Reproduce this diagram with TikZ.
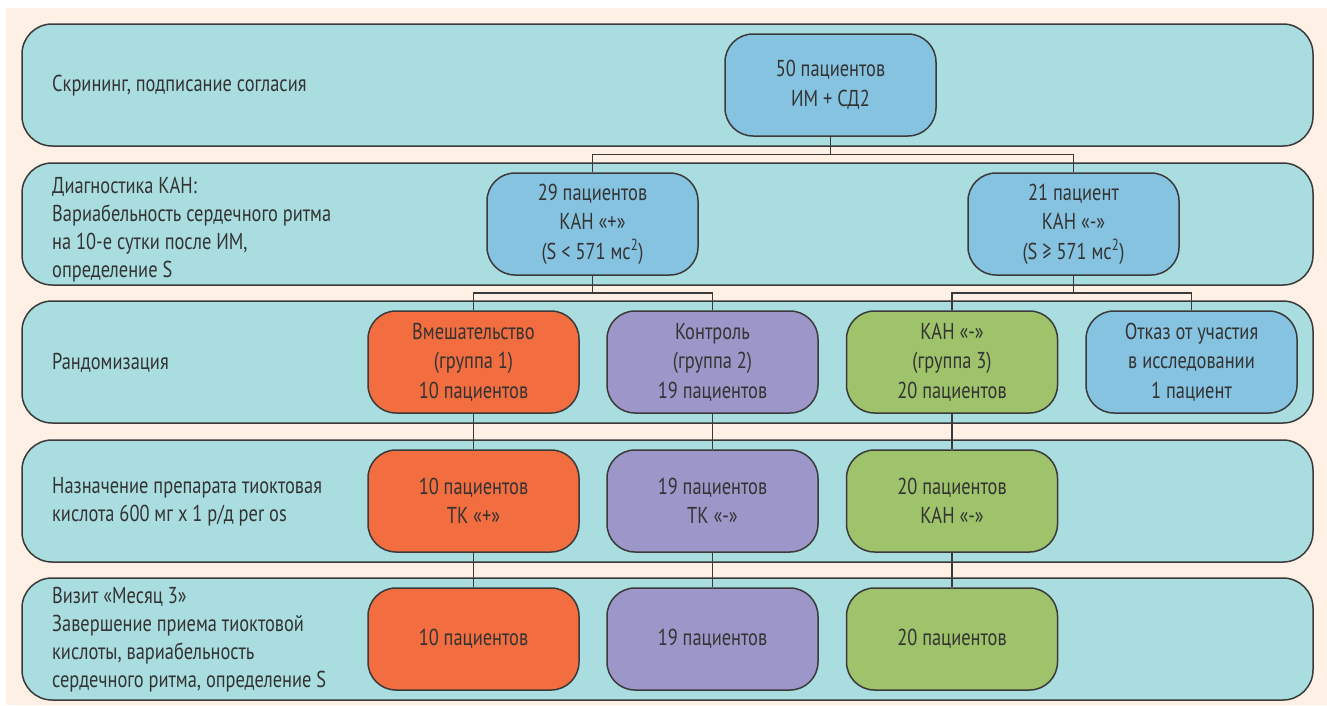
\documentclass[tikz,border=0pt]{standalone}
\usepackage{fontspec}
\setmainfont{PT Sans}[FakeStretch=0.8]
\definecolor{cream}{HTML}{FEF0E4}
\definecolor{bandc}{HTML}{AADDE0}
\definecolor{blu}{HTML}{86C3E1}
\definecolor{ora}{HTML}{F26D3F}
\definecolor{pur}{HTML}{9D97C9}
\definecolor{gre}{HTML}{9FC36B}
\definecolor{bord}{HTML}{3A3A3A}
\definecolor{txt}{HTML}{333333}
\tikzset{
  band/.style={draw=bord, line width=1.5pt, fill=bandc, rounded corners=30pt},
  box/.style={draw=bord, line width=1.5pt, rounded corners=28pt, minimum width=211pt,
    minimum height=102pt, align=center, inner sep=0pt, text=txt,
    font=\fontsize{23}{29.5}\selectfont},
  lbl/.style={anchor=west, align=left, inner sep=0pt, text=txt,
    font=\fontsize{23}{28}\selectfont},
  conn/.style={draw=bord, line width=1.3pt}
}
\begin{document}
\begin{tikzpicture}[x=1pt,y=-1pt]
\fill[white] (0,0) rectangle (1327,705);
\fill[cream] (6,8) rectangle (1327,705);
\useasboundingbox (0,0) rectangle (1327,705);
% bands
\draw[band] (22,24) rectangle (1313,146);
\draw[band] (22,163) rectangle (1313,285);
\draw[band] (22,301) rectangle (1313,423);
\draw[band] (22,440) rectangle (1313,562);
\draw[band] (22,578) rectangle (1313,700);
% band labels
\node[lbl] (l1) at (52,86) {Скрининг, подписание согласия};
\node[lbl] (l2) at (52,230) {Диагностика КАН:\\Вариабельность сердечного ритма\\на 10-е сутки после ИМ,\\определение S};
\node[lbl] (l3) at (52,363) {Рандомизация};
\node[lbl] (l4) at (52,502) {Назначение препарата тиоктовая\\кислота 600 мг х 1 р/д per os};
\node[lbl] (l5) at (52,640) {Визит «Месяц 3»\\Завершение приема тиоктовой\\кислоты, вариабельность\\сердечного ритма, определение S};
% nodes
\node[box, fill=blu] (n50) at (830.5,85) {50 пациентов\\ИМ + СД2};
\node[box, fill=blu] (n29) at (592.5,224) {29 пациентов\\КАН «+»\\(S < 571 мс\textsuperscript{2})};
\node[box, fill=blu] (n21) at (1073.5,224) {21 пациент\\КАН «-»\\(S ≥ 571 мс\textsuperscript{2})};
\node[box, fill=ora] (g1) at (473.5,362) {Вмешательство\\(группа 1)\\10 пациентов};
\node[box, fill=pur] (g2) at (712.5,362) {Контроль\\(группа 2)\\19 пациентов};
\node[box, fill=gre] (g3) at (952,362) {КАН «-»\\(группа 3)\\20 пациентов};
\node[box, fill=blu] (g4) at (1191.5,362) {Отказ от участия\\в исследовании\\1 пациент};
\node[box, fill=ora] (t1) at (473.5,501) {10 пациентов\\ТК «+»};
\node[box, fill=pur] (t2) at (712.5,501) {19 пациентов\\ТК «-»};
\node[box, fill=gre] (t3) at (952,501) {20 пациентов\\КАН «-»};
\node[box, fill=ora] (v1) at (473.5,639) {10 пациентов};
\node[box, fill=pur] (v2) at (712.5,639) {19 пациентов};
\node[box, fill=gre] (v3) at (952,639) {20 пациентов};
% connectors
\coordinate (j1) at (830.5,154.5);
\coordinate (j2) at (592.5,293);
\coordinate (j3) at (1073.5,293);
\draw[conn] (n50.south) -- (j1);
\draw[conn] (n29.north) |- (j1) -| (n21.north);
\draw[conn] (n29.south) -- (j2);
\draw[conn] (g1.north) |- (j2) -| (g2.north);
\draw[conn] (n21.south) -- (j3);
\draw[conn] (g3.north) |- (j3) -| (g4.north);
\draw[conn] (g1) -- (t1);
\draw[conn] (g2) -- (t2);
\draw[conn] (g3) -- (t3);
\draw[conn] (t1) -- (v1);
\draw[conn] (t2) -- (v2);
\draw[conn] (t3) -- (v3);
\end{tikzpicture}
\end{document}
